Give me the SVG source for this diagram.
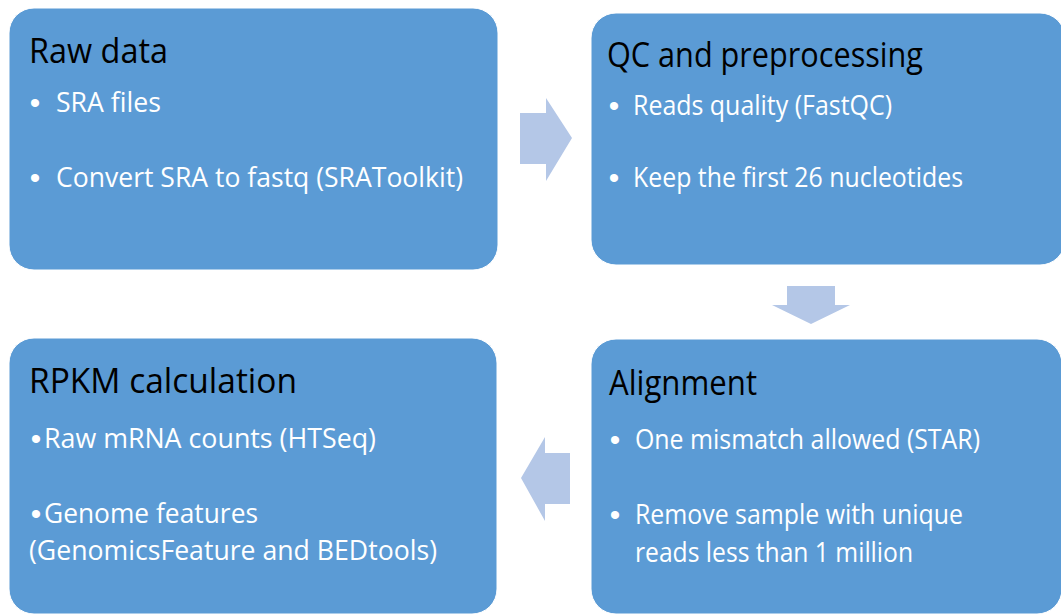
<svg xmlns="http://www.w3.org/2000/svg" width="1061" height="615" viewBox="0 0 1061 615">
<style>
.box{fill:#5B9BD5;stroke:#ffffff;stroke-width:1}
.arrow{fill:#B4C7E7}
.title{font-family:"Open Sans","Liberation Sans",sans-serif;font-size:34px;fill:#000000}
.item{font-family:"Open Sans","Liberation Sans",sans-serif;font-size:27px;fill:#ffffff}
.dot{font-family:"Liberation Sans",Arial,sans-serif;font-size:30px;fill:#ffffff;text-anchor:middle}
</style>
<rect width="1061" height="615" fill="#ffffff"/>
<g id="connectors">
<polygon class="arrow" points="520,113 546,113 546,98 572,138 546,181 546,164 520,164"/>
<polygon class="arrow" points="787,286 835,286 835,305 850,305 811,324 772,305 787,305"/>
<polygon class="arrow" points="570,453 545,453 545,437 521,478 545,521 545,504 570,504"/>
</g>
<g id="raw-data">
<rect class="box" x="9" y="8" width="489" height="262" rx="25" ry="25"/>
<text class="title" x="29" y="63" textLength="139" lengthAdjust="spacingAndGlyphs">Raw data</text>
<text class="dot" x="35" y="113">•</text>
<text class="item" x="56" y="112" textLength="105" lengthAdjust="spacingAndGlyphs">SRA files</text>
<text class="dot" x="35" y="188">•</text>
<text class="item" x="56" y="187" textLength="407" lengthAdjust="spacingAndGlyphs">Convert SRA to fastq (SRAToolkit)</text>
</g>
<g id="qc">
<rect class="box" x="591" y="13" width="474" height="252" rx="25" ry="25"/>
<text class="title" x="607" y="67" textLength="316" lengthAdjust="spacingAndGlyphs">QC and preprocessing</text>
<text class="dot" x="614" y="116">•</text>
<text class="item" x="633" y="115" textLength="259" lengthAdjust="spacingAndGlyphs">Reads quality (FastQC)</text>
<text class="dot" x="614" y="188">•</text>
<text class="item" x="633" y="187" textLength="330" lengthAdjust="spacingAndGlyphs">Keep the first 26 nucleotides</text>
</g>
<g id="alignment">
<rect class="box" x="591" y="339" width="471" height="275" rx="25" ry="25"/>
<text class="title" x="609" y="395" textLength="148" lengthAdjust="spacingAndGlyphs">Alignment</text>
<text class="dot" x="615" y="450">•</text>
<text class="item" x="635" y="449" textLength="345" lengthAdjust="spacingAndGlyphs">One mismatch allowed (STAR)</text>
<text class="dot" x="615" y="525">•</text>
<text class="item" x="635" y="524" textLength="328" lengthAdjust="spacingAndGlyphs">Remove sample with unique</text>
<text class="item" x="635" y="562" textLength="278" lengthAdjust="spacingAndGlyphs">reads less than 1 million</text>
</g>
<g id="rpkm">
<rect class="box" x="9" y="338" width="488" height="276" rx="25" ry="25"/>
<text class="title" x="29" y="393" textLength="268" lengthAdjust="spacingAndGlyphs">RPKM calculation</text>
<text class="dot" x="36" y="449">•</text>
<text class="item" x="44" y="448" textLength="332" lengthAdjust="spacingAndGlyphs">Raw mRNA counts (HTSeq)</text>
<text class="dot" x="36" y="524">•</text>
<text class="item" x="44" y="523" textLength="214" lengthAdjust="spacingAndGlyphs">Genome features</text>
<text class="item" x="29" y="560" textLength="408" lengthAdjust="spacingAndGlyphs">(GenomicsFeature and BEDtools)</text>
</g>
</svg>
